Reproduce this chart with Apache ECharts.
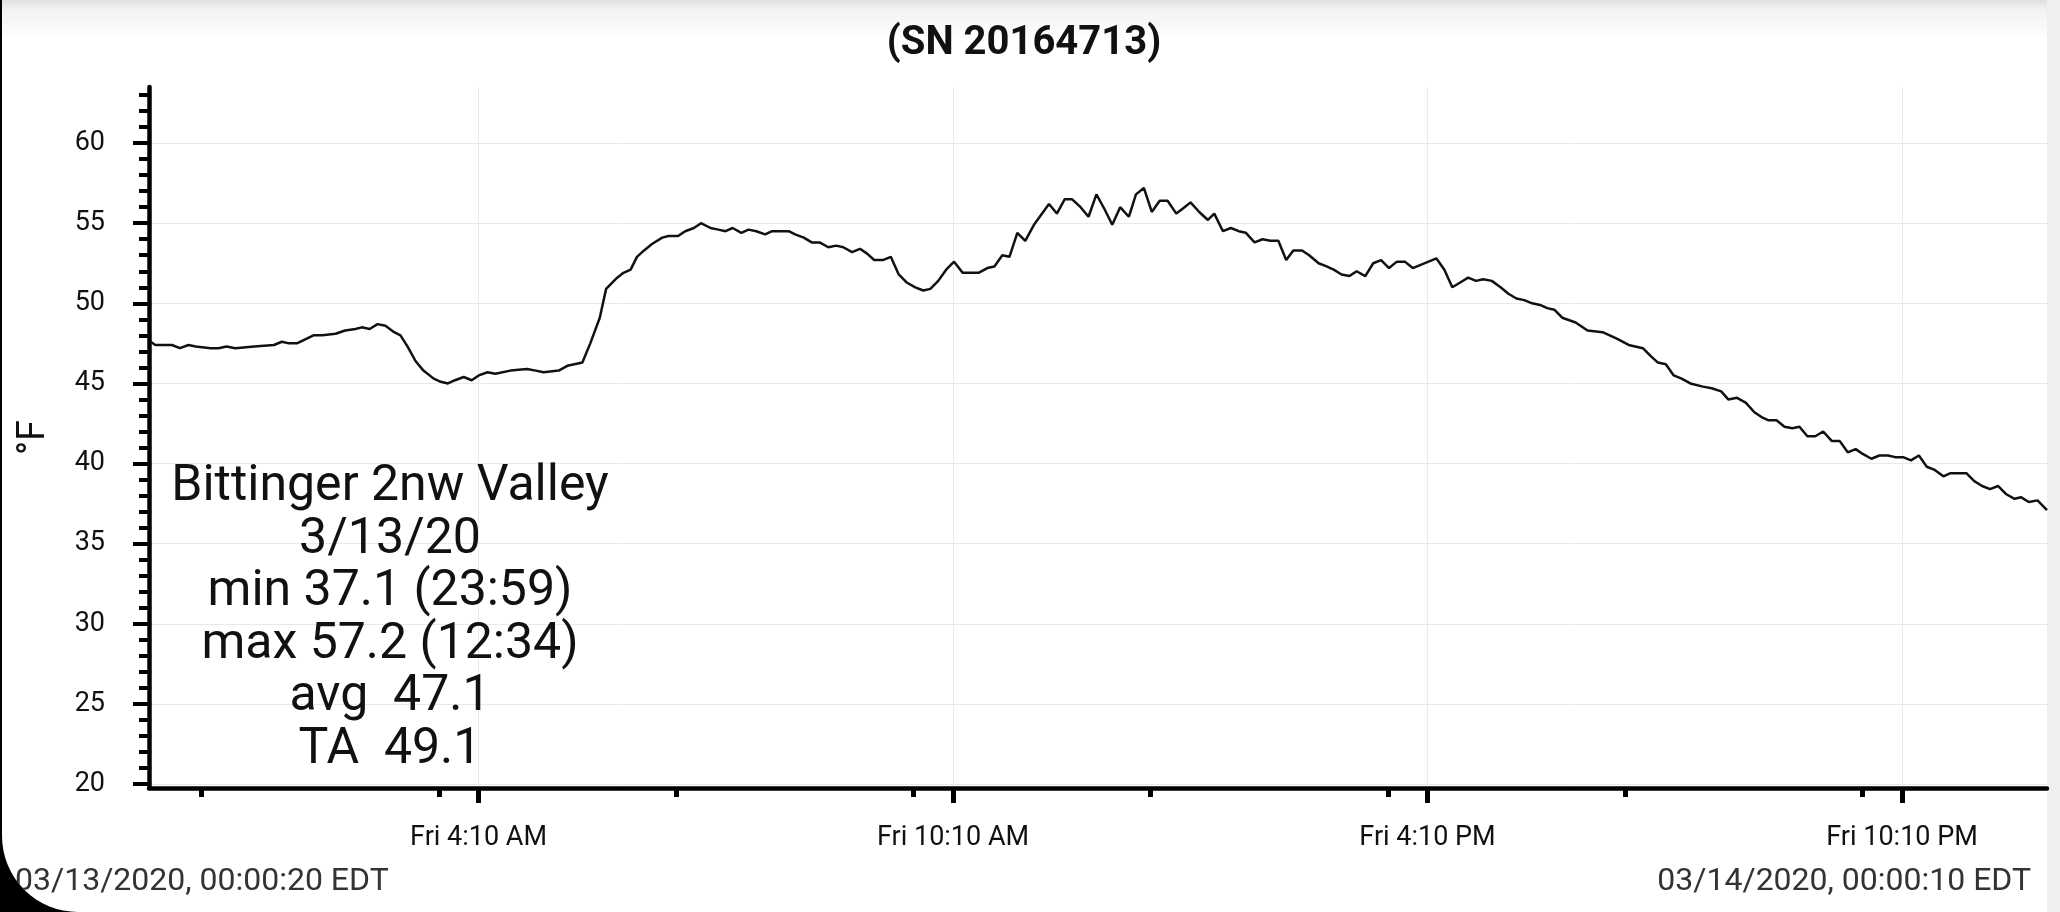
<!DOCTYPE html>
<html>
<head>
<meta charset="utf-8">
<script src="https://cdn.jsdelivr.net/npm/echarts@6/dist/echarts.min.js"></script>
<style>
html,body{margin:0;padding:0;background:#000;width:2060px;height:912px;overflow:hidden}
#frame{position:absolute;left:2px;top:0;width:2058px;height:912px;background:#fff;border-bottom-left-radius:76px;overflow:hidden}
#shade{position:absolute;left:0;top:0;width:100%;height:40px;background:linear-gradient(#e0e0e0 0px,#f2f2f2 9px,#ffffff 40px)}
#strip{position:absolute;right:0;top:0;width:13px;height:100%;background:#efefef}
#chart{position:absolute;left:-2px;top:0;width:2060px;height:912px}
</style>
</head>
<body>
<div id="frame"><div id="shade"></div><div id="strip"></div><div id="chart"></div></div>
<script>
// time of day in hours (03/13/2020), temperature in °F
const times = [0.02,0.08,0.29,0.39,0.50,0.59,0.78,0.88,0.98,1.09,1.33,1.58,1.68,1.77,1.87,2.08,2.19,2.36,2.48,2.61,2.69,2.79,2.89,2.99,3.10,3.18,3.27,3.37,3.47,3.60,3.69,3.78,3.87,3.98,4.08,4.17,4.28,4.38,4.57,4.78,4.89,4.99,5.18,5.29,5.48,5.58,5.70,5.78,5.92,6.00,6.09,6.17,6.26,6.36,6.49,6.57,6.69,6.78,6.89,6.98,7.10,7.20,7.29,7.38,7.49,7.58,7.68,7.79,7.88,8.09,8.17,8.28,8.38,8.48,8.59,8.69,8.78,8.89,8.99,9.08,9.17,9.28,9.38,9.48,9.58,9.69,9.79,9.88,9.98,10.08,10.18,10.29,10.39,10.49,10.60,10.69,10.79,10.88,10.98,11.08,11.19,11.38,11.48,11.58,11.67,11.78,11.88,11.98,12.08,12.18,12.28,12.39,12.48,12.58,12.68,12.78,12.88,12.99,13.07,13.17,13.28,13.39,13.47,13.58,13.68,13.78,13.87,13.98,14.08,14.18,14.28,14.38,14.47,14.58,14.67,14.79,14.89,14.98,15.08,15.18,15.27,15.38,15.48,15.58,15.68,15.78,15.88,15.98,16.08,16.18,16.28,16.38,16.48,16.58,16.68,16.78,16.87,16.98,17.09,17.19,17.29,17.39,17.49,17.59,17.68,17.77,17.87,18.04,18.19,18.38,18.56,18.71,18.89,18.99,19.08,19.18,19.28,19.38,19.49,19.65,19.76,19.88,19.97,20.08,20.19,20.30,20.39,20.48,20.58,20.68,20.78,20.87,20.97,21.07,21.17,21.28,21.38,21.48,21.58,21.67,21.78,21.88,21.99,22.08,22.18,22.28,22.38,22.48,22.58,22.69,22.78,22.88,22.98,23.08,23.18,23.28,23.38,23.48,23.59,23.67,23.77,23.88,24.00];
const temps = [47.6,47.4,47.4,47.2,47.4,47.3,47.2,47.2,47.3,47.2,47.3,47.4,47.6,47.5,47.5,48.0,48.0,48.1,48.3,48.4,48.5,48.4,48.7,48.6,48.2,48.0,47.3,46.4,45.8,45.3,45.1,45.0,45.2,45.4,45.2,45.5,45.7,45.6,45.8,45.9,45.8,45.7,45.8,46.1,46.3,47.5,49.1,50.9,51.6,51.9,52.1,52.9,53.3,53.7,54.1,54.2,54.2,54.5,54.7,55.0,54.7,54.6,54.5,54.7,54.4,54.6,54.5,54.3,54.5,54.5,54.3,54.1,53.8,53.8,53.5,53.6,53.5,53.2,53.4,53.1,52.7,52.7,52.9,51.8,51.3,51.0,50.8,50.9,51.4,52.1,52.6,51.9,51.9,51.9,52.2,52.3,53.0,52.9,54.4,53.9,54.9,56.2,55.6,56.5,56.5,56.0,55.4,56.8,55.9,54.9,56.0,55.4,56.8,57.2,55.7,56.4,56.4,55.6,55.9,56.3,55.7,55.2,55.6,54.5,54.7,54.5,54.4,53.8,54.0,53.9,53.9,52.7,53.3,53.3,53.0,52.5,52.3,52.1,51.8,51.7,52.0,51.7,52.5,52.7,52.2,52.6,52.6,52.2,52.4,52.6,52.8,52.1,51.0,51.3,51.6,51.4,51.5,51.4,51.0,50.6,50.3,50.2,50.0,49.9,49.7,49.6,49.1,48.8,48.3,48.2,47.8,47.4,47.2,46.7,46.3,46.2,45.5,45.3,45.0,44.8,44.7,44.5,44.0,44.1,43.8,43.2,42.9,42.7,42.7,42.3,42.2,42.3,41.7,41.7,42.0,41.4,41.4,40.7,40.9,40.6,40.3,40.5,40.5,40.4,40.4,40.2,40.5,39.8,39.6,39.2,39.4,39.4,39.4,38.9,38.6,38.4,38.6,38.1,37.8,37.9,37.6,37.7,37.1];

const yMajorTicks = [20,25,30,35,40,45,50,55,60];
const yMinorTicks = [20,21,22,23,24,25,26,27,28,29,30,31,32,33,34,35,36,37,38,39,40,41,42,43,44,45,46,47,48,49,50,51,52,53,54,55,56,57,58,59,60,61,62,63];
const xMajorTickTimes = ['4:10','10:10','16:10','22:10'];
const xMajorTickLabels = ['Fri 4:10 AM','Fri 10:10 AM','Fri 4:10 PM','Fri 10:10 PM'];
const xMinorTickTimes = ['0:40','3:40','6:40','9:40','12:40','15:40','18:40','21:40'];

const titleText = '(SN 20164713)';
const statsLines = ['Bittinger 2nw Valley','3/13/20','min 37.1 (23:59)','max 57.2 (12:34)','avg  47.1','TA  49.1'];
const startStamp = '03/13/2020, 00:00:20 EDT';
const endStamp = '03/14/2020, 00:00:10 EDT';

function toHours(s){ const p = s.split(':'); return +p[0] + (+p[1])/60; }
const xMajorTicks = xMajorTickTimes.map(toHours);
const xMinorTicks = xMinorTickTimes.map(toHours);

const FONT = 'Roboto';
const chart = echarts.init(document.getElementById('chart'), null, {renderer:'canvas'});
const option = {
  animation: false,
  backgroundColor: 'transparent',
  textStyle: {fontFamily: FONT},
  grid: {left: 149, right: 13, top: 87, bottom: 124, containLabel: false},
  xAxis: [
    {
      type: 'value', min: 0, max: 24, position: 'bottom',
      axisLine: {show: true, lineStyle: {color: '#000', width: 4.5}},
      axisTick: {show: true, customValues: xMinorTicks, length: 9, lineStyle: {color: '#000', width: 5}},
      axisLabel: {show: false},
      splitLine: {show: false}
    },
    {
      type: 'value', min: 0, max: 24, position: 'bottom',
      axisLine: {show: false},
      axisTick: {show: true, customValues: xMajorTicks, length: 15, lineStyle: {color: '#000', width: 5}},
      axisLabel: {
        show: true, customValues: xMajorTicks, margin: 37, fontSize: 27, color: '#111', fontFamily: FONT,
        formatter: function (v) {
          for (let i = 0; i < xMajorTicks.length; i++) if (Math.abs(xMajorTicks[i] - v) < 1e-6) return xMajorTickLabels[i];
          return '';
        }
      },
      splitLine: {show: true, lineStyle: {color: '#e9e9e9', width: 1}}
    }
  ],
  yAxis: [
    {
      type: 'value', min: 19.75, max: 63.5, position: 'left',
      name: '°F', nameLocation: 'middle', nameGap: 96,
      nameTextStyle: {fontSize: 38, color: '#111', fontFamily: FONT},
      axisLine: {show: true, lineStyle: {color: '#000', width: 4.5}},
      axisTick: {show: true, customValues: yMinorTicks, length: 10, lineStyle: {color: '#000', width: 4}},
      axisLabel: {show: false},
      splitLine: {show: false}
    },
    {
      type: 'value', min: 19.75, max: 63.5, position: 'left',
      axisLine: {show: false},
      axisTick: {show: true, customValues: yMajorTicks, length: 16, lineStyle: {color: '#000', width: 4}},
      axisLabel: {show: true, customValues: yMajorTicks, margin: 44, fontSize: 27, color: '#111', fontFamily: FONT},
      splitLine: {show: true, lineStyle: {color: '#e9e9e9', width: 1}}
    }
  ],
  series: [{
    type: 'line',
    xAxisIndex: 0, yAxisIndex: 0,
    data: times.map((t, i) => [t, temps[i]]),
    symbol: 'none', showSymbol: false, silent: true,
    lineStyle: {color: '#111', width: 2.5},
    z: 5
  }],
  graphic: [
    {type: 'text', x: 1024, y: 44, style: {text: titleText, fontSize: 40, fontWeight: 'bold', fontFamily: FONT, fill: '#111', textAlign: 'center', textVerticalAlign: 'middle'}},
    {type: 'text', x: 390, y: 619, z: 10, style: {text: statsLines.join('\n'), fontSize: 50, fontFamily: FONT, fill: '#111', lineHeight: 52.6, textAlign: 'center', textVerticalAlign: 'middle'}},
    {type: 'text', x: 15, y: 882, style: {text: startStamp, fontSize: 32, fontFamily: FONT, fill: '#333', textAlign: 'left', textVerticalAlign: 'middle'}},
    {type: 'text', x: 2031, y: 882, style: {text: endStamp, fontSize: 32, fontFamily: FONT, fill: '#333', textAlign: 'right', textVerticalAlign: 'middle'}}
  ]
};
chart.setOption(option);
</script>
</body>
</html>
